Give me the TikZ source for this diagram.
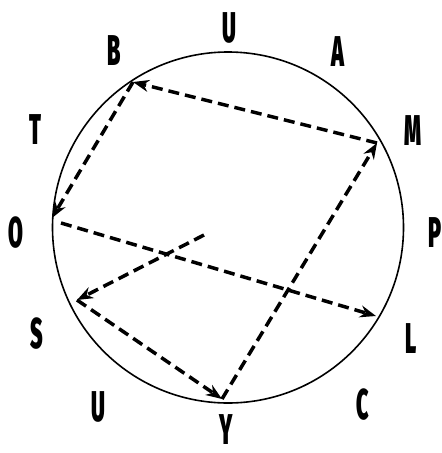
\documentclass[tikz,border=0pt]{standalone}
\usepackage{fontspec}
\setmainfont{Fira Sans}[FakeStretch=0.5, BoldFont={Fira Sans Black}, BoldFeatures={FakeStretch=0.5}]
\usetikzlibrary{arrows.meta}

\begin{document}
\begin{tikzpicture}[x=1pt, y=-1pt, >={Stealth[length=16pt,width=12pt]},
    path/.style={->, line width=3.5pt, dash pattern=on 11pt off 6pt},
    letter/.style={font=\fontsize{43}{43}\selectfont\bfseries, inner sep=0pt}]
                \useasboundingbox (0,0) rectangle (442,453);
                \coordinate (Z) at (228,227.5);
                \draw[line width=1.6pt] (Z) circle (175.5);

                \coordinate (I) at (204,235);
                \coordinate (S1) at (77,300);
                \coordinate (Y1) at (222,399);
                \coordinate (M1) at (377,143);
                \coordinate (B1) at (133,82);
                \coordinate (O1) at (52,218);
                \coordinate (O2) at (61,223);
                \coordinate (L1) at (376,316);

                \draw[path] (I) -- (S1);
                \draw[path] (S1) -- (Y1);
                \draw[path] (Y1) -- (M1);
                \draw[path] (M1) -- (B1);
                \draw[path] (B1) -- (O1);
                \draw[path] (O2) -- (L1);

                \node[letter] (u1) at (229,28) {U};
                \node[letter] (a) at (338,52) {A};
                \node[letter] (m) at (413,131) {M};
                \node[letter] (p) at (435,233) {P};
                \node[letter] (l) at (411,339) {L};
                \node[letter] (c) at (363,405) {C};
                \node[letter] (y) at (226,430) {Y};
                \node[letter] (u2) at (98,407) {U};
                \node[letter] (s) at (37,334) {S};
                \node[letter] (o) at (16,233) {O};
                \node[letter] (t) at (35,130) {T};
                \node[letter] (b) at (114,51) {B};
            \end{tikzpicture}
\end{document}
